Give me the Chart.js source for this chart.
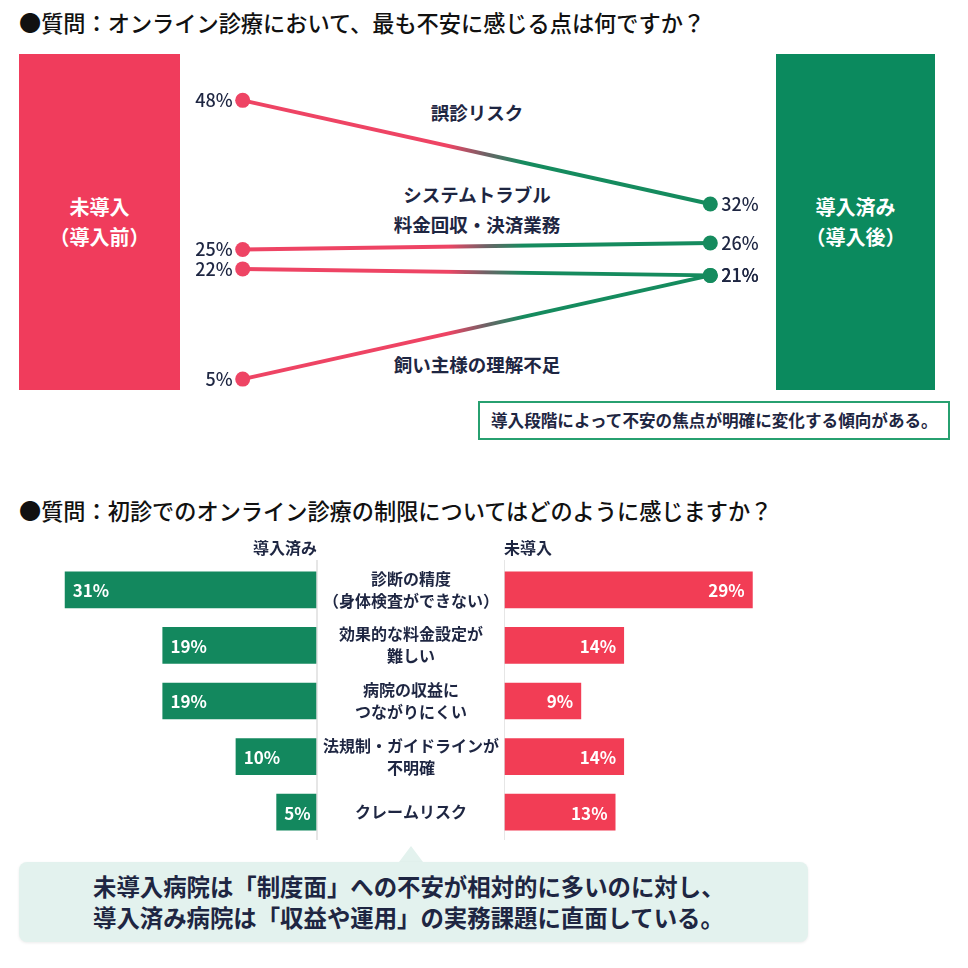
<!DOCTYPE html>
<html lang="ja">
<head>
<meta charset="utf-8">
<script src="https://cdn.jsdelivr.net/npm/chart.js@4.4.1/dist/chart.umd.min.js"></script>
<style>
html, body { margin: 0; padding: 0; background: #fff; }
body { width: 968px; height: 968px; position: relative; overflow: hidden;
  font-family: "Noto Sans CJK JP", "Noto Sans", sans-serif; color: #1e2642; }
.abs { position: absolute; }
.title { left: 19px; font-size: 22.2px; font-weight: 500; color: #111; line-height: 22px; white-space: nowrap; }
.side { display: flex; align-items: center; justify-content: center; text-align: center;
  color: #fff; font-weight: 700; font-size: 20px; line-height: 30px; }
.cat { transform: translate(-50%, -50%); font-size: 18.5px; font-weight: 700; white-space: nowrap; }
.note { left: 478px; top: 401px; width: 472px; height: 39px; box-sizing: border-box;
  border: 2px solid #27a070; background: #fff; font-size: 16.6px; font-weight: 700;
  line-height: 35px; padding-left: 11px; white-space: nowrap; }
.callout { left: 19px; top: 862px; width: 789px; height: 80px; background: #e3f2ee;
  border-radius: 8px; box-shadow: 0 1px 3px rgba(0,0,0,0.08); box-sizing: border-box;
  padding: 9px 0 0 74px; font-size: 23.4px; font-weight: 700; line-height: 31px; white-space: nowrap; }
.pointer { left: 399px; top: 846px; width: 0; height: 0; border-left: 12px solid transparent;
  border-right: 12px solid transparent; border-bottom: 16px solid #e3f2ee; }
canvas { position: absolute; }
</style>
</head>
<body>
<div class="abs title" style="top:11px">●質問：オンライン診療において、最も不安に感じる点は何ですか？</div>
<div class="abs side" style="left:19px;top:54px;width:161px;height:336px;background:#f03c5c">未導入<br>（導入前）</div>
<div class="abs side" style="left:776px;top:54px;width:159px;height:336px;background:#0b8a5e">導入済み<br>（導入後）</div>
<div id="topCats"></div>
<div class="abs note">導入段階によって不安の焦点が明確に変化する傾向がある。</div>
<canvas id="slope" width="679" height="378" style="left:137px;top:41px"></canvas>

<div class="abs title" style="top:499px">●質問：初診でのオンライン診療の制限についてはどのように感じますか？</div>
<canvas id="barLeft" width="484" height="312" style="left:20px;top:530px"></canvas>
<canvas id="barRight" width="446" height="312" style="left:504px;top:530px"></canvas>
<div class="abs pointer"></div>
<div class="abs callout">未導入病院は「制度面」への不安が相対的に多いのに対し、<br>導入済み病院は「収益や運用」の実務課題に直面している。</div>

<script>
// 上段：不安に感じる点（導入前 → 導入後）
var topCategories = ['誤診リスク', 'システムトラブル', '料金回収・決済業務', '飼い主様の理解不足'];
var before = [48, 25, 22, 5];
var after = [32, 26, 21, 21];

// 下段：初診の制限について
var limitCategories = [
    ['診断の精度', '（身体検査ができない）'],
    ['効果的な料金設定が', '難しい'],
    ['病院の収益に', 'つながりにくい'],
    ['法規制・ガイドラインが', '不明確'],
    ['クレームリスク']
];
var installed = [31, 19, 19, 10, 5];
var notInstalled = [29, 14, 9, 14, 13];

var RED = '#ee4464';
var GREEN = '#158b5e';
var NAVY = '#1e2642';
var FONT = '"Noto Sans CJK JP", "Noto Sans", sans-serif';

Chart.defaults.font.family = FONT;
Chart.defaults.animation = false;

// category labels of the top chart (text only, kept clear of the lines)
var catTop = [112, 194, 224, 364];
topCategories.forEach(function (name, i) {
    var d = document.createElement('div');
    d.className = 'abs cat';
    d.style.left = '477px';
    d.style.top = catTop[i] + 'px';
    d.textContent = name;
    document.getElementById('topCats').appendChild(d);
});

function slopeGradient(ctx) {
    var chart = ctx.chart;
    if (!chart.chartArea) return RED;
    var x0 = chart.scales.x.getPixelForValue(0);
    var x1 = chart.scales.x.getPixelForValue(1);
    var g = chart.ctx.createLinearGradient(x0, 0, x1, 0);
    g.addColorStop(0, RED);
    g.addColorStop(0.44, RED);
    g.addColorStop(0.52, '#6e6266');
    g.addColorStop(0.6, GREEN);
    g.addColorStop(1, GREEN);
    return g;
}

var slopeLabels = {
    id: 'slopeLabels',
    afterDatasetsDraw: function (chart) {
        var c = chart.ctx;
        c.save();
        c.font = '500 18px ' + FONT;
        c.fillStyle = NAVY;
        c.textBaseline = 'middle';
        chart.data.datasets.forEach(function (ds, i) {
            var pts = chart.getDatasetMeta(i).data;
            c.textAlign = 'right';
            c.fillText(ds.data[0].y + '%', pts[0].x - 10, pts[0].y);
            c.textAlign = 'left';
            c.fillText(ds.data[1].y + '%', pts[1].x + 11, pts[1].y);
        });
        c.restore();
    }
};

new Chart(document.getElementById('slope'), {
    type: 'scatter',
    data: {
        datasets: before.map(function (v, i) {
            return {
                data: [{x: 0, y: v}, {x: 1, y: after[i]}],
                showLine: true,
                borderColor: slopeGradient,
                borderWidth: 4,
                pointRadius: 7.5,
                pointHoverRadius: 7.5,
                pointBorderWidth: 0,
                pointBackgroundColor: [RED, GREEN],
                clip: false
            };
        })
    },
    options: {
        responsive: false,
        layout: {padding: 0},
        scales: {
            x: {display: false, min: -0.21, max: 1.21},
            y: {display: false, min: 0, max: 56}
        },
        plugins: {legend: {display: false}, tooltip: {enabled: false}}
    },
    plugins: [slopeLabels]
});

var butterfly = {
    id: 'butterfly',
    afterDatasetsDraw: function (chart, args, opts) {
        var c = chart.ctx;
        var area = chart.chartArea;
        var left = opts.side === 'left';
        var axisX = left ? area.right : area.left;
        c.save();
        // centre line
        c.strokeStyle = '#dedede';
        c.lineWidth = 1.5;
        c.beginPath();
        c.moveTo(axisX, area.top - 2);
        c.lineTo(axisX, area.bottom);
        c.stroke();
        // header
        c.fillStyle = NAVY;
        c.font = '700 16px ' + FONT;
        c.textBaseline = 'middle';
        c.textAlign = left ? 'right' : 'left';
        c.fillText(opts.header, axisX, area.top - 14);
        // values inside the bars
        var meta = chart.getDatasetMeta(0);
        var vals = chart.data.datasets[0].data;
        c.fillStyle = '#fff';
        c.font = '600 17px ' + FONT;
        meta.data.forEach(function (bar, i) {
            c.textAlign = left ? 'left' : 'right';
            c.fillText(vals[i] + '%', left ? bar.x + 8 : bar.x - 8, bar.y + 1);
        });
        // category names in the middle
        if (left) {
            c.fillStyle = NAVY;
            c.font = '700 16px ' + FONT;
            c.textAlign = 'center';
            var mid = area.right + 94;
            meta.data.forEach(function (bar, i) {
                var lines = chart.data.labels[i];
                var y0 = bar.y - (lines.length - 1) * 11;
                lines.forEach(function (t, k) {
                    c.fillText(t, mid, y0 + k * 22);
                });
            });
        }
        c.restore();
    }
};

function makeBars(id, values, color, side, header, max, pad) {
    return new Chart(document.getElementById(id), {
        type: 'bar',
        data: {
            labels: limitCategories,
            datasets: [{
                data: values,
                backgroundColor: color,
                barPercentage: 0.66,
                categoryPercentage: 1
            }]
        },
        options: {
            responsive: false,
            indexAxis: 'y',
            layout: {padding: pad},
            scales: {
                x: {display: false, min: 0, max: max, reverse: side === 'left'},
                y: {display: false}
            },
            plugins: {
                legend: {display: false},
                tooltip: {enabled: false},
                butterfly: {side: side, header: header}
            }
        },
        plugins: [butterfly]
    });
}

makeBars('barLeft', installed, '#13885e', 'left', '導入済み', 36.5, {top: 32, bottom: 2, left: 0, right: 187});
makeBars('barRight', notInstalled, '#f23d55', 'right', '未導入', 52, {top: 32, bottom: 2, left: 0, right: 0});
</script>
</body>
</html>
